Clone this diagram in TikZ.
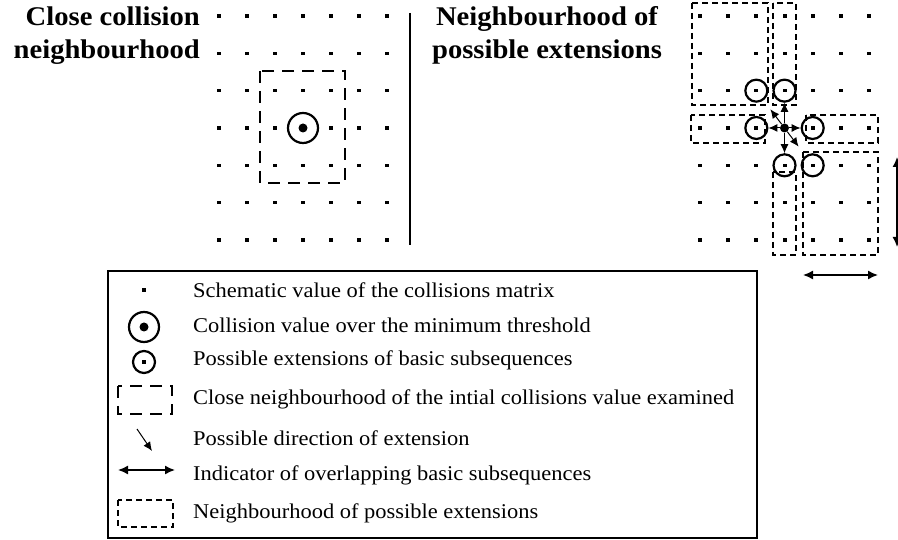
\documentclass[tikz,border=0pt]{standalone}
\usepackage{fontspec}
\setmainfont{Liberation Serif}
\newfontfamily\ttlfont{Liberation Serif}[FakeStretch=1.06]
\newfontfamily\legfont{Liberation Serif}[FakeStretch=1.07]
\usetikzlibrary{arrows.meta,calc}
\begin{document}
\begin{tikzpicture}[x=1pt,y=-1pt,
  gdot/.style={rectangle,fill=black,inner sep=0pt,minimum width=4pt,minimum height=3.5pt},
  bigcirc/.style={circle,draw,line width=2.2pt,minimum size=30pt,inner sep=0pt},
  smallcirc/.style={circle,draw,line width=2.2pt,minimum size=22pt,inner sep=0pt},
  cdot/.style={circle,fill=black,inner sep=0pt,minimum size=9pt},
  thickdash/.style={draw,line width=2.5pt,dash pattern=on 12pt off 8pt},
  thindash/.style={draw,line width=1.3pt,dash pattern=on 6pt off 4pt},
  arr/.style={line width=1pt,-{Latex[length=9pt,width=8pt]}},
  darr/.style={line width=1.5pt,{Latex[length=10pt,width=9pt]}-{Latex[length=10pt,width=9pt]}},
  ttl/.style={font=\ttlfont\fontsize{27}{34}\selectfont\bfseries,inner sep=0pt},
  legtext/.style={font=\legfont\fontsize{21}{24}\selectfont,anchor=base west,inner sep=0pt},
]
\useasboundingbox[fill=white] (0,0) rectangle (898,540);

% titles
\node[ttl,anchor=base east] (t1) at (200,26) {Close collision};
\node[ttl,anchor=base east] (t2) at (200,59) {neighbourhood};
\node[ttl,anchor=base] (t3) at (547,26) {Neighbourhood of};
\node[ttl,anchor=base] (t4) at (547,59) {possible extensions};

% grids
\foreach \i in {0,...,6} \foreach \j in {0,...,6} {
  \node[gdot] (L\i\j) at ({219+28*\i},{16+37.33*\j}) {};
  \node[gdot] (R\i\j) at ({700+28.17*\i},{16+37.33*\j}) {};
}

% left panel
\draw[thickdash] (260,71) rectangle (345,183);
\node[bigcirc] (LC) at (L33) {};
\node[cdot] (LCd) at (L33) {};

% separator
\coordinate (vtop) at (410,13);
\coordinate (vbot) at (410,245);
\draw[line width=2pt] (vtop) -- (vbot);

% right panel: neighbourhoods
\draw[thindash] (692,3) rectangle (768,105);
\draw[thindash] (773,3) rectangle (796,105);
\draw[thindash] (691,115) rectangle (765,143);
\draw[thindash] (806,115) rectangle (878,143);
\draw[thindash] (773,172) rectangle (796,255);
\draw[thindash] (803,152) rectangle (878,255);

\node[smallcirc] (E22) at (R22) {};
\node[smallcirc] (E32) at (R32) {};
\node[smallcirc] (E23) at (R23) {};
\node[smallcirc] (E43) at (R43) {};
\node[smallcirc] (E34) at (R34) {};
\node[smallcirc] (E44) at (R44) {};
\node[cdot] (C) at (R33) {};

\draw[arr] (C) -- (E32);
\draw[arr] (C) -- (E23);
\draw[arr] (C) -- (E43);
\draw[arr] (C) -- (E34);
\draw[arr] (C) -- ($(C)!0.5!(E22)$);
\draw[arr] (C) -- ($(C)!0.5!(E44)$);

% overlap indicators
\coordinate (h1) at (803,275);
\coordinate (h2) at (878,275);
\draw[darr] (h1) -- (h2);
\coordinate (v1) at (897,157);
\coordinate (v2) at (897,247);
\draw[darr] (v1) -- (v2);

% legend
\draw[line width=1.2pt] (108,271) rectangle (757,538);
\node[gdot] (k1) at (144,290) {};
\node[bigcirc] (k2) at (144,327) {};
\node[cdot] (k2d) at (144,327) {};
\node[smallcirc] (k3) at (144,362) {};
\node[gdot] (k3d) at (144,362) {};
\draw[thickdash] (118,386) rectangle (172,414);
\coordinate (k5a) at (137,429);
\coordinate (k5b) at (152,451);
\draw[arr] (k5a) -- (k5b);
\coordinate (k6a) at (118,470);
\coordinate (k6b) at (175,470);
\draw[darr] (k6a) -- (k6b);
\draw[thindash] (118,500) rectangle (173,527);

\node[legtext] (l1) at (193,298) {Schematic value of the collisions matrix};
\node[legtext] (l2) at (193,333) {Collision value over the minimum threshold};
\node[legtext] (l3) at (193,366) {Possible extensions of basic subsequences};
\node[legtext] (l4) at (193,404) {Close neighbourhood of the intial collisions value examined};
\node[legtext] (l5) at (193,445) {Possible direction of extension};
\node[legtext] (l6) at (193,480) {Indicator of overlapping basic subsequences};
\node[legtext] (l7) at (193,518) {Neighbourhood of possible extensions};
\end{tikzpicture}
\end{document}
